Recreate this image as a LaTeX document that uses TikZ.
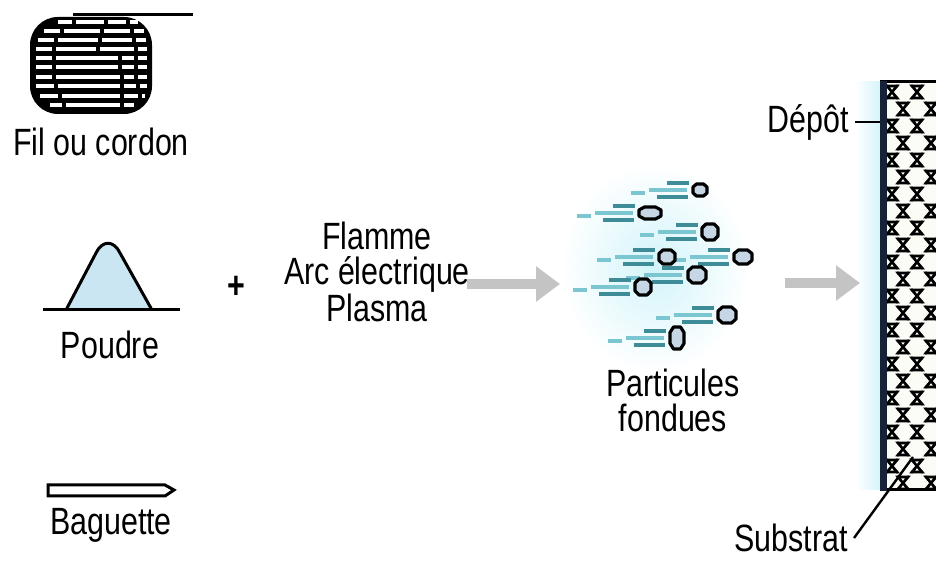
\documentclass[tikz,border=0pt]{standalone}
\usepackage{fontspec}
\setmainfont{Liberation Sans}[FakeStretch=0.8]
\usetikzlibrary{arrows.meta}
\definecolor{powderblue}{RGB}{202,230,242}
\definecolor{meltfill}{RGB}{198,214,228}
\definecolor{streakdark}{RGB}{62,140,152}
\definecolor{streaklight}{RGB}{124,198,210}
\definecolor{hazecyan}{RGB}{210,244,250}
\definecolor{arrowgray}{RGB}{196,196,196}
\definecolor{edgenavy}{RGB}{22,34,56}
\definecolor{coatbg}{RGB}{252,252,246}

\begin{document}
\begin{tikzpicture}[x=0.5pt,y=-0.5pt,
    lbl/.style={inner sep=0pt,align=center,font=\fontsize{19}{17.5}\selectfont},
    flow/.style={line width=5pt,arrowgray,-{Triangle[length=12pt,width=17pt]}},
    lead/.style={line width=1.2pt},
    grain/.style={draw=black,line width=1.6pt,fill=meltfill,line join=round},
    streak/.style={line width=1.7pt},
    splat/.style={line width=1.3pt,line cap=butt}]
    \useasboundingbox (0,0) rectangle (936,565);

    % Wire coil
    \draw[line width=1.5pt] (73,15) -- (193,15);
    \fill[black,rounded corners=14pt] (30,17) rectangle (152,114);
    \foreach \y/\segs in {22/{58/72,76/104,108/126,130/138},
                          31/{44/60,64/100,104/130,134/144},
                          40/{38/54,58/98,102/132,136/146},
                          49/{36/52,56/96,100/134,138/147},
                          58/{36/52,56/118,122/134,138/147},
                          67/{36/52,56/118,122/134,138/147},
                          77/{36/52,56/120,124/134,138/147},
                          86/{36/54,58/120,124/136,140/147},
                          96/{40/58,62/120,124/138,142/145},
                          105/{50/62,66/120,124/134}}
        {\foreach \a/\b in \segs {\draw[white,line width=2.3pt] (\a,\y) -- (\b,\y);}}
    \node[lbl] (fil) at (101,142) {Fil ou cordon};

    % Powder heap
    \filldraw[powderblue,draw=black,line width=1.5pt,line join=round]
        (66,310) -- (96,253) .. controls (102,240) and (114,240) .. (120,253) -- (152,310);
    \draw[line width=1.5pt] (43,310) -- (180,310);
    \node[lbl] (poudre) at (110,345) {Poudre};

    % Rod
    \draw[line width=1.5pt,fill=white] (48,485) -- (165,485) -- (174,490) -- (165,496) -- (48,496) -- cycle;
    \node[lbl] (baguette) at (111,525) {Baguette};

    % Heat source
    \node[lbl] (plus) at (236,287) {\textbf{+}};
    \node[lbl] (source) at (377,272) {Flamme\\Arc électrique\\Plasma};

    % Molten particles in flight
    \shade[inner color=hazecyan,outer color=white] (655,268) ellipse (95 and 105);
    \foreach \px/\py/\rx/\ry in {700/190/7/6, 650/213/11/6, 710/232/8/8, 667/257/8/7,
                                 743/257/9/7, 697/275/9/8, 643/287/8/8, 727/315/9/8, 677/338/7/11}
    {
        \draw[streak,streakdark] (\px-\rx-26,\py-7) -- (\px-\rx-4,\py-7);
        \draw[streak,streaklight] (\px-\rx-44,\py) -- (\px-\rx-6,\py);
        \draw[streak,streakdark] (\px-\rx-36,\py+7) -- (\px-\rx-5,\py+7);
        \draw[streak,streaklight] (\px-\rx-62,\py+3) -- (\px-\rx-48,\py+3);
    }
    \foreach \px/\py/\rx/\ry in {700/190/7/6, 650/213/11/6, 710/232/8/8, 667/257/8/7,
                                 743/257/9/7, 697/275/9/8, 643/287/8/8, 727/315/9/8, 677/338/7/11}
        \filldraw[grain] (\px-\rx,\py-\ry/2) -- (\px-\rx/2,\py-\ry) -- (\px+\rx/2,\py-\ry)
            -- (\px+\rx,\py-\ry/2) -- (\px+\rx,\py+\ry/2) -- (\px+\rx/2,\py+\ry)
            -- (\px-\rx/2,\py+\ry) -- (\px-\rx,\py+\ry/2) -- cycle;
    \node[lbl] (fondues) at (673,400) {Particules\\fondues};

    % Coated substrate
    \shade[left color=white,right color=hazecyan] (855,82) rectangle (881,490);
    \fill[coatbg] (884,82) rectangle (940,490);
    \foreach \k in {0,...,23}{
        \pgfmathsetmacro\yy{92+17*\k}
        \ifodd\k
            \foreach \xx in {903,931}
                \draw[splat] (\xx-5,\yy-6) -- (\xx+5,\yy-6) -- (\xx-5,\yy+6) -- (\xx+5,\yy+6) -- cycle
                             (\xx-6,\yy-7) -- (\xx+6,\yy+7) (\xx+6,\yy-7) -- (\xx-6,\yy+7);
        \else
            \foreach \xx in {892,917}
                \draw[splat] (\xx-5,\yy-6) -- (\xx+5,\yy-6) -- (\xx-5,\yy+6) -- (\xx+5,\yy+6) -- cycle
                             (\xx-6,\yy-7) -- (\xx+6,\yy+7) (\xx+6,\yy-7) -- (\xx-6,\yy+7);
        \fi
    }
    \draw[line width=1.5pt] (880,82) -- (940,82);
    \draw[line width=1.5pt] (880,490) -- (940,490);
    \draw[line width=3.5pt,edgenavy] (883,81) -- (883,491);
    \coordinate (depotpt) at (880,122);
    \coordinate (substpt) at (913,457);

    \node[lbl] (depot) at (808,122) {Dépôt};
    \node[lbl] (substrat) at (791,538) {Substrat};
    \draw[lead] ([xshift=3pt]depot.east) -- (depotpt);
    \draw[lead] ([xshift=3pt]substrat.east) -- (substpt);

    % Process arrows
    \coordinate (f1a) at (467,284);
    \coordinate (f1b) at (560,284);
    \coordinate (f2a) at (785,283);
    \coordinate (f2b) at (860,283);
    \draw[flow] (f1a) -- (f1b);
    \draw[flow] (f2a) -- (f2b);
\end{tikzpicture}
\end{document}
